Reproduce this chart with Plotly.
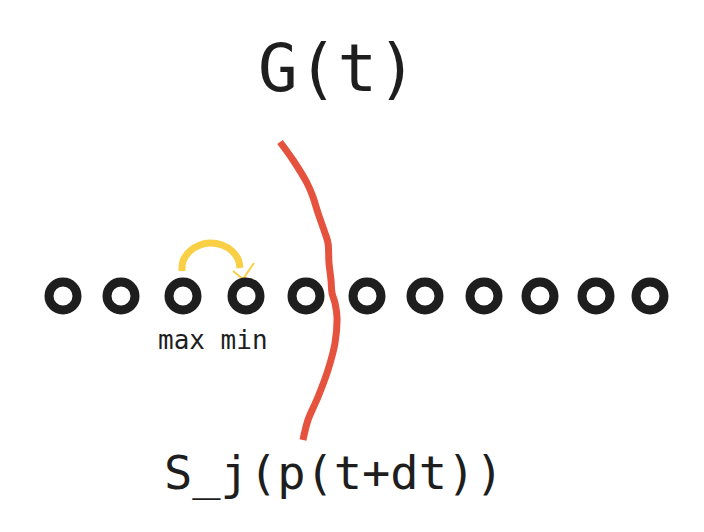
import plotly.graph_objects as go

# node positions (pixel space of the sketch)
node_x = [63, 121, 183, 246, 306, 367, 425, 484, 540, 596, 650]
node_y = [296] * len(node_x)

# red cut line G(t)
cut_x = [280, 293, 307, 313, 318, 325, 328, 329, 331, 332, 335, 337, 335, 328, 318, 308, 303]
cut_y = [142, 160, 183, 197, 213, 233, 243, 263, 280, 293, 303, 317, 343, 370, 397, 420, 440]

# yellow swap arc max -> min
arc_x = [182, 183, 190, 200, 210, 222, 232, 238, 240]
arc_y = [271, 261, 251, 245, 243, 245, 251, 259, 268]
head_x = [233, 243, 254]
head_y = [271, 279, 263]

title_text = "G(t)"
bottom_text = "S_j(p(t+dt))"
label_text = "max min"

fig = go.Figure()

fig.add_trace(go.Scatter(x=arc_x, y=arc_y, mode="lines", line=dict(color="#f9cf45", width=7, shape="spline"), hoverinfo="skip"))
fig.add_trace(go.Scatter(x=head_x, y=head_y, mode="lines", line=dict(color="#f9cf45", width=2), hoverinfo="skip"))

fig.add_trace(go.Scatter(
    x=node_x, y=node_y, mode="markers",
    marker=dict(symbol="circle-open", size=28, color="#1e1e1e", line=dict(width=9, color="#1e1e1e")),
    hoverinfo="skip",
))

fig.add_trace(go.Scatter(x=cut_x, y=cut_y, mode="lines", line=dict(color="#e5533f", width=7, shape="spline"), hoverinfo="skip"))

mono = "DejaVu Sans Mono"
fig.add_annotation(x=337, y=68, text=title_text, showarrow=False, font=dict(family=mono, size=66, color="#1e1e1e"))
fig.add_annotation(x=334, y=472, text=bottom_text, showarrow=False, font=dict(family=mono, size=47, color="#1e1e1e"))
fig.add_annotation(x=213, y=340, text=label_text, showarrow=False, font=dict(family=mono, size=26, color="#1e1e1e"))

# page body adds an 8px offset, so the ranges are shifted to keep sketch pixels aligned
fig.update_layout(
    width=704, height=532,
    margin=dict(l=0, r=0, t=0, b=0),
    paper_bgcolor="white", plot_bgcolor="white",
    showlegend=False,
    xaxis=dict(range=[8, 712], visible=False, fixedrange=True),
    yaxis=dict(range=[540, 8], visible=False, fixedrange=True),
)

fig.write_html("out.html")
